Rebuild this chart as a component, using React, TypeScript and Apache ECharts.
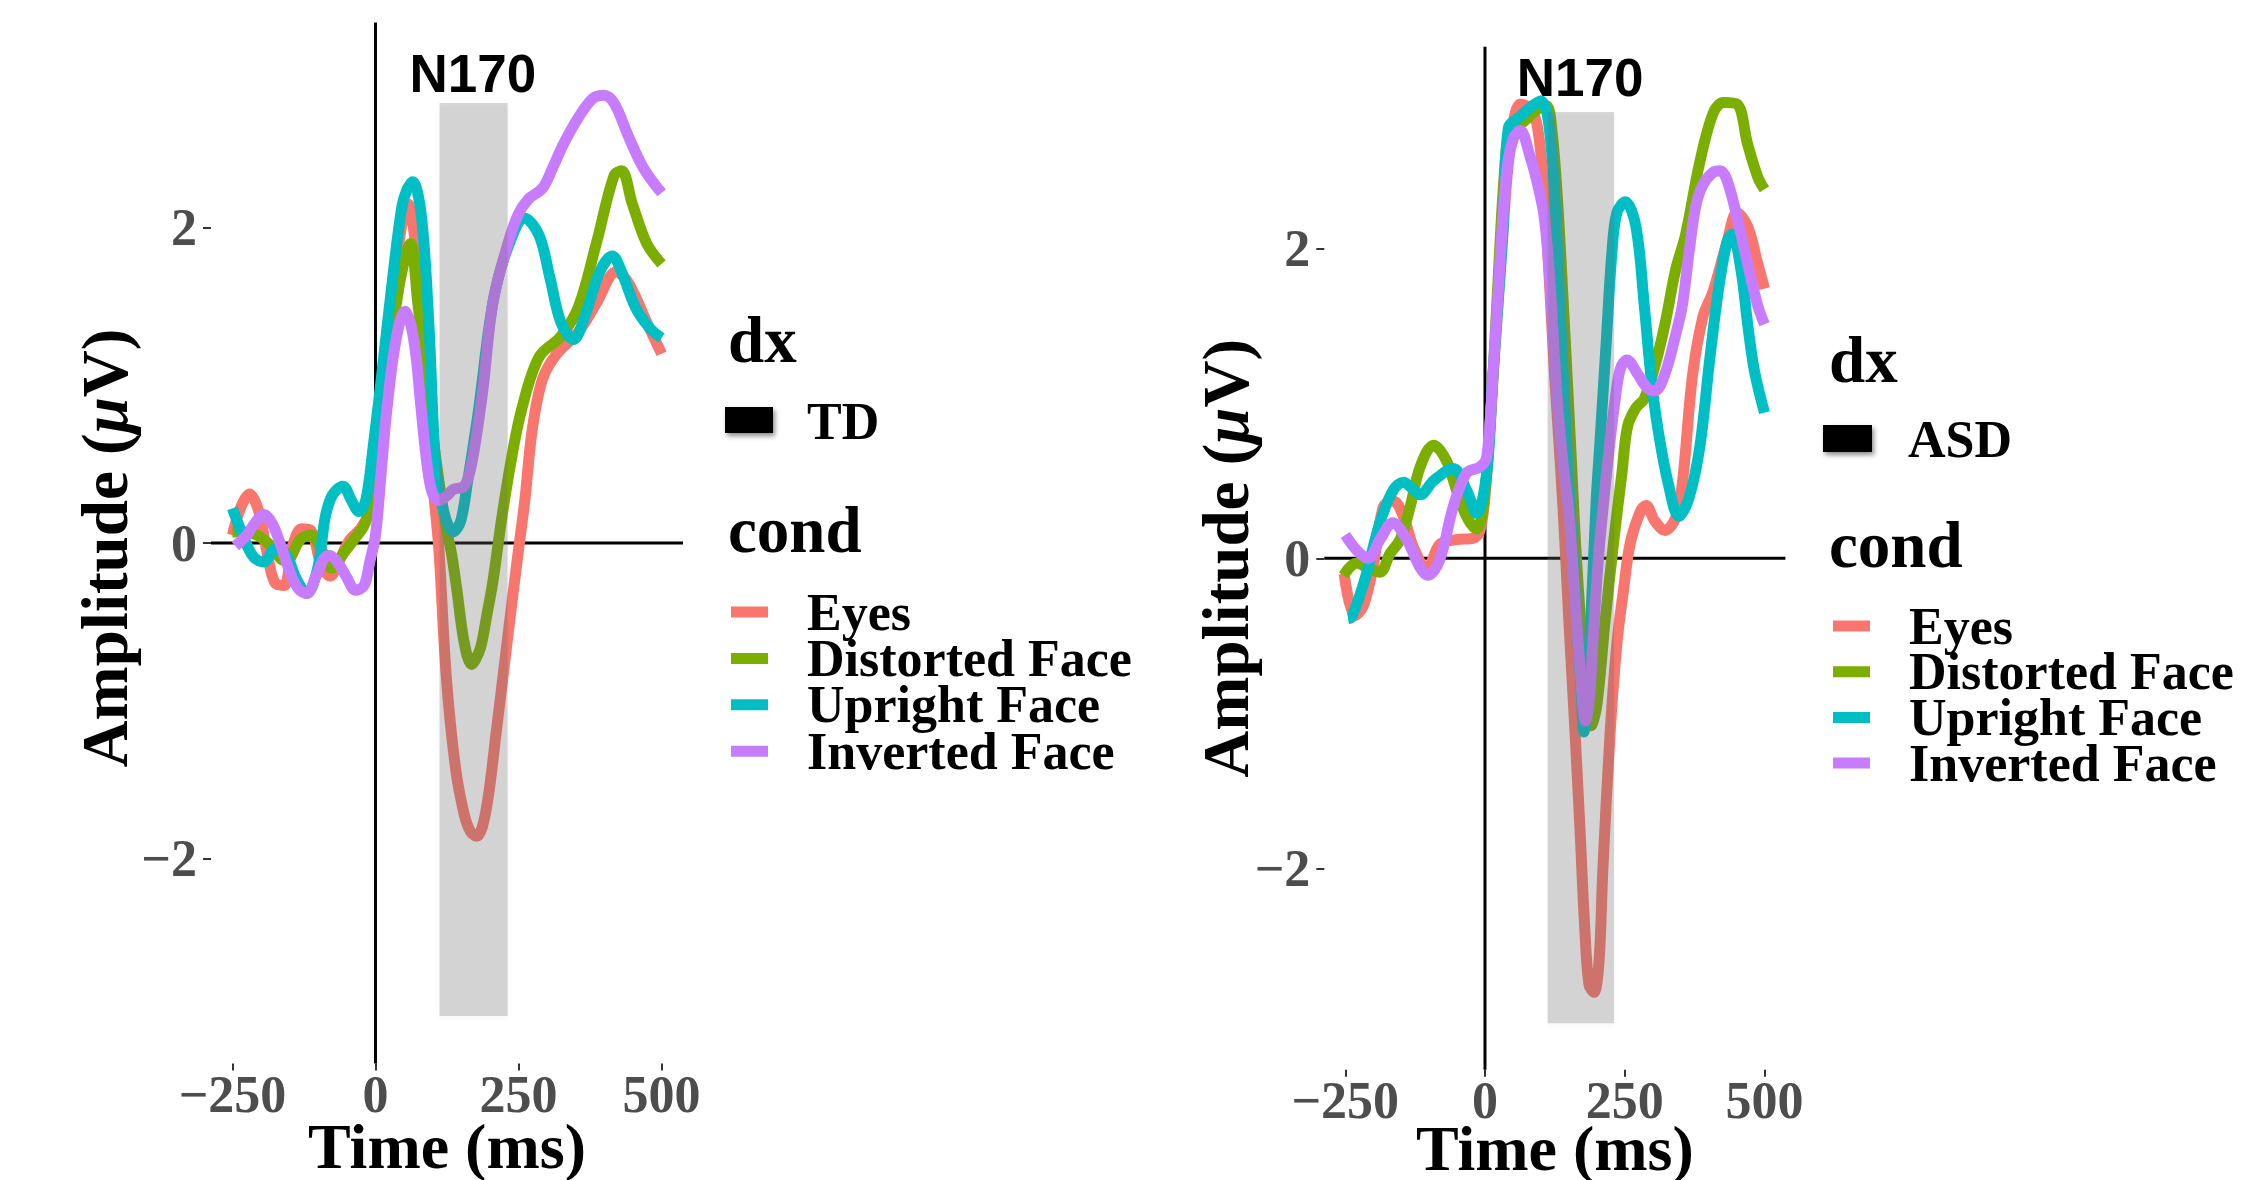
import React, { useEffect, useRef } from "react";
import * as echarts from "echarts";

// ---- axis / category definitions ----
const timeTicks = [-250, 0, 250, 500];
const ampTicks = [-2, 0, 2];
const timeRange = [-287.5, 537.5];
const ampRange = [-3.3, 3.3];
const condNames = ["Eyes", "Distorted Face", "Upright Face", "Inverted Face"];
const condColors = ["#F8766D", "#7CAE00", "#00BFC4", "#C77CFF"];
const panelNames = ["TD", "ASD"];

// N170 window [start ms, end ms, ymin, ymax] and label position [ms, µV]
const n170RectTD = [112, 231, -3, 2.79];
const n170RectASD = [112, 231, -3, 2.88];
const n170LabelTD = [170, 2.98];
const n170LabelASD = [170, 3.1];

// ---- TD panel: [time ms, amplitude µV] ----
const tdEyes = [
  [-250, 0.05], [-235, 0.23], [-220, 0.31], [-204, 0.2], [-188, -0.09], [-176, -0.25], [-160, -0.27],
  [-145, -0.02], [-129, 0.09], [-113, 0.08], [-95, -0.14], [-79, -0.21], [-63, -0.11], [-45, 0.02],
  [-26, 0.09], [-13, 0.18], [0, 0.4], [15, 0.95], [30, 1.55], [45, 2.0], [57, 2.15], [68, 1.95],
  [80, 1.45], [90, 0.9], [97, 0.5], [103, 0.27], [111, -0.05], [124, -0.86], [140, -1.43], [155, -1.72],
  [166, -1.83], [177, -1.86], [193, -1.7], [211, -1.2], [230, -0.63], [249, -0.07], [261, 0.27],
  [274, 0.72], [292, 1.04], [317, 1.2], [355, 1.34], [386, 1.52], [421, 1.72], [442, 1.65],
  [474, 1.4], [500, 1.2],
];
const tdDistorted = [
  [-250, 0.07], [-230, 0.07], [-207, 0.05], [-182, -0.02], [-160, -0.11], [-150, -0.1], [-132, 0.02],
  [-113, 0.05], [-95, -0.04], [-76, -0.16], [-57, -0.07], [-38, 0.02], [-20, 0.11], [-10, 0.23],
  [0, 0.45], [15, 0.9], [30, 1.35], [45, 1.7], [61, 1.9], [74, 1.52], [86, 1.15], [99, 0.72],
  [111, 0.39], [124, 0.09], [133, -0.07], [142, -0.29], [155, -0.63], [168, -0.77], [180, -0.7],
  [186, -0.63], [195, -0.45], [205, -0.25], [220, 0.14], [236, 0.5], [255, 0.84], [286, 1.18],
  [324, 1.31], [355, 1.5], [386, 1.9], [417, 2.33], [430, 2.36], [449, 2.15], [474, 1.9], [500, 1.77],
];
const tdUpright = [
  [-250, 0.22], [-232, 0.05], [-213, -0.09], [-195, -0.12], [-176, -0.04], [-157, -0.07], [-138, -0.23],
  [-120, -0.32], [-101, -0.16], [-88, 0.16], [-76, 0.3], [-57, 0.36], [-42, 0.27], [-29, 0.2],
  [-17, 0.27], [-4, 0.61], [11, 1.07], [30, 1.68], [46, 2.13], [55, 2.24], [65, 2.29], [80, 2.08],
  [93, 1.41], [105, 0.5], [117, 0.23], [136, 0.07], [149, 0.14], [161, 0.39], [180, 0.84], [205, 1.52],
  [230, 1.86], [261, 2.06], [286, 1.95], [305, 1.68], [324, 1.4], [346, 1.29], [367, 1.45],
  [392, 1.72], [414, 1.82], [430, 1.72], [455, 1.49], [480, 1.36], [500, 1.3],
];
const tdInverted = [
  [-245, -0.02], [-225, 0.05], [-210, 0.13], [-195, 0.18], [-180, 0.12], [-165, -0.02], [-150, -0.18],
  [-135, -0.29], [-120, -0.32], [-105, -0.22], [-90, -0.1], [-80, -0.08], [-65, -0.13], [-50, -0.22],
  [-35, -0.3], [-20, -0.27], [-10, -0.12], [0, 0.05], [10, 0.45], [20, 0.85], [36, 1.29], [52, 1.47],
  [62, 1.38], [71, 1.18], [80, 0.84], [90, 0.5], [99, 0.32], [111, 0.27], [125, 0.3], [136, 0.34],
  [155, 0.36], [168, 0.5], [187, 0.95], [205, 1.52], [230, 1.88], [249, 2.08], [267, 2.18],
  [292, 2.25], [311, 2.39], [330, 2.54], [355, 2.7], [380, 2.82], [399, 2.84], [417, 2.79],
  [442, 2.58], [468, 2.38], [500, 2.22],
];

// ---- ASD panel: [time ms, amplitude µV] ----
const asdEyes = [
  [-252, -0.1], [-233, -0.37], [-218, -0.31], [-200, -0.05], [-182, 0.33], [-164, 0.37], [-146, 0.27],
  [-128, 0.07], [-104, -0.07], [-81, 0.09], [-51, 0.12], [-21, 0.13], [-9, 0.18], [0, 0.4], [15, 1.2],
  [30, 2.0], [45, 2.65], [63, 2.93], [82, 2.9], [94, 2.78], [105, 2.4], [115, 1.8], [125, 1.15],
  [135, 0.6], [143, 0.1], [150, -0.4], [160, -1.05], [170, -1.75], [178, -2.35], [186, -2.75],
  [195, -2.8], [204, -2.6], [211, -2.0], [224, -1.12], [236, -0.55], [248, -0.2], [260, 0.1],
  [279, 0.31], [288, 0.34], [304, 0.24], [322, 0.18], [341, 0.26], [353, 0.48], [371, 1.17],
  [390, 1.56], [408, 1.72], [433, 2.04], [451, 2.23], [470, 2.14], [488, 1.9], [500, 1.74],
];
const asdDistorted = [
  [-253, -0.11], [-230, -0.03], [-210, -0.06], [-188, -0.09], [-170, 0.03], [-152, 0.12], [-134, 0.33],
  [-116, 0.59], [-92, 0.73], [-69, 0.63], [-51, 0.44], [-33, 0.27], [-15, 0.19], [-3, 0.33], [10, 0.9],
  [22, 1.7], [35, 2.5], [45, 2.75], [70, 2.82], [95, 2.9], [110, 2.92], [120, 2.75], [130, 2.3],
  [140, 1.65], [147, 1.17], [155, 0.6], [162, 0.1], [172, -0.45], [182, -0.85], [190, -1.08],
  [200, -0.95], [215, -0.4], [230, 0.1], [245, 0.55], [255, 0.85], [270, 0.97], [285, 1.03],
  [304, 1.24], [322, 1.51], [341, 1.86], [359, 2.09], [384, 2.55], [408, 2.87], [427, 2.94],
  [451, 2.93], [470, 2.67], [488, 2.46], [500, 2.38],
];
const asdUpright = [
  [-245, -0.39], [-239, -0.38], [-225, -0.25], [-212, -0.1], [-188, 0.23], [-164, 0.44], [-146, 0.49],
  [-130, 0.45], [-116, 0.41], [-92, 0.5], [-57, 0.58], [-33, 0.44], [-15, 0.29], [3, 0.55], [14, 1.17],
  [32, 2.09], [42, 2.78], [63, 2.85], [85, 2.92], [100, 2.95], [113, 2.83], [125, 2.32], [137, 1.4],
  [150, 0.48], [158, 0.0], [165, -0.45], [171, -0.78], [177, -1.12], [188, -0.5], [199, 0.38],
  [205, 0.71], [217, 1.4], [227, 1.97], [236, 2.23], [251, 2.3], [270, 2.14], [285, 1.63],
  [297, 1.17], [310, 0.82], [328, 0.48], [347, 0.27], [365, 0.39], [384, 0.71], [402, 1.28],
  [418, 1.74], [433, 2.04], [442, 2.09], [458, 1.86], [470, 1.51], [482, 1.21], [500, 0.94],
];
const asdInverted = [
  [-250, 0.15], [-229, 0.05], [-209, 0.0], [-188, 0.12], [-165, 0.23], [-140, 0.12], [-116, -0.06],
  [-102, -0.11], [-81, -0.01], [-57, 0.33], [-33, 0.55], [-9, 0.59], [3, 0.65], [14, 1.17], [26, 1.86],
  [39, 2.5], [51, 2.71], [63, 2.76], [80, 2.6], [95, 2.4], [106, 2.2], [116, 1.8], [125, 1.25],
  [131, 0.94], [140, 0.6], [150, 0.3], [160, -0.2], [170, -0.7], [180, -1.05], [187, -0.9],
  [193, -0.55], [203, 0.0], [212, 0.35], [222, 0.7], [232, 1.0], [242, 1.22], [254, 1.28],
  [273, 1.19], [290, 1.1], [304, 1.08], [322, 1.19], [341, 1.44], [353, 1.63], [365, 1.97],
  [377, 2.27], [390, 2.41], [408, 2.49], [421, 2.5], [433, 2.44], [451, 2.2], [470, 1.9],
  [488, 1.63], [500, 1.51],
];

const tdSeries = [tdEyes, tdDistorted, tdUpright, tdInverted];
const asdSeries = [asdEyes, asdDistorted, asdUpright, asdInverted];

// ---- layout (pixels) ----
const SERIF = '"Liberation Serif", "Times New Roman", Times, serif';
const SANS = '"Liberation Sans", Arial, sans-serif';
const grids = [
  { left: 211, top: 22.6, width: 472, height: 1040.8 },
  { left: 1324.3, top: 46.8, width: 461.1, height: 1023 },
];

const fmt = (v: number) => (v < 0 ? "\u2212" + Math.abs(v) : String(v));

function buildOption() {
  const xAxis = grids.map((_, i) => ({
    type: "value",
    gridIndex: i,
    min: timeRange[0],
    max: timeRange[1],
    axisLine: { show: false, onZero: false },
    splitLine: { show: false },
    axisTick: {
      show: true,
      customValues: timeTicks,
      length: 7,
      lineStyle: { color: "#333333", width: 2 },
    },
    axisLabel: {
      customValues: timeTicks,
      formatter: fmt,
      margin: 11,
      lineHeight: 40,
      color: "#4D4D4D",
      fontFamily: SERIF,
      fontWeight: "bold",
      fontSize: 52,
    },
  }));
  const yAxis = grids.map((_, i) => ({
    type: "value",
    gridIndex: i,
    min: ampRange[0],
    max: ampRange[1],
    axisLine: { show: false, onZero: false },
    splitLine: { show: false },
    axisTick: {
      show: true,
      customValues: ampTicks,
      length: 8,
      lineStyle: { color: "#333333", width: 2 },
    },
    axisLabel: {
      customValues: ampTicks,
      formatter: fmt,
      margin: 14,
      lineHeight: 40,
      color: "#4D4D4D",
      fontFamily: SERIF,
      fontWeight: "bold",
      fontSize: 52,
    },
  }));

  const series: any[] = [];
  [tdSeries, asdSeries].forEach((panel, pi) => {
    // zero reference lines
    series.push({
      type: "custom",
      xAxisIndex: pi,
      yAxisIndex: pi,
      z: 1,
      silent: true,
      data: [[0, 0]],
      renderItem: (params: any, api: any) => {
        const cs = params.coordSys;
        const p = api.coord([api.value(0), api.value(1)]);
        return {
          type: "group",
          children: [
            {
              type: "line",
              shape: { x1: cs.x, y1: p[1], x2: cs.x + cs.width, y2: p[1] },
              style: { stroke: "#000", lineWidth: 3 },
            },
            {
              type: "line",
              shape: { x1: p[0], y1: cs.y, x2: p[0], y2: cs.y + cs.height },
              style: { stroke: "#000", lineWidth: 3 },
            },
          ],
        };
      },
    });
    panel.forEach((data, ci) => {
      series.push({
        type: "line",
        name: condNames[ci],
        xAxisIndex: pi,
        yAxisIndex: pi,
        data,
        smooth: 0.35,
        showSymbol: false,
        symbol: "none",
        z: 2,
        color: condColors[ci],
        itemStyle: { color: condColors[ci] },
        lineStyle: { color: condColors[ci], width: 11, cap: "butt", join: "round" },
      });
    });
    // N170 window (translucent overlay)
    series.push({
      type: "custom",
      xAxisIndex: pi,
      yAxisIndex: pi,
      z: 3,
      silent: true,
      data: [pi === 0 ? n170RectTD : n170RectASD],
      renderItem: (params: any, api: any) => {
        const p0 = api.coord([api.value(0), api.value(3)]);
        const p1 = api.coord([api.value(1), api.value(2)]);
        return {
          type: "rect",
          shape: { x: p0[0], y: p0[1], width: p1[0] - p0[0], height: p1[1] - p0[1] },
          style: {
            fill: "rgba(110,110,110,0.28)",
            shadowBlur: 5,
            shadowOffsetY: 3,
            shadowColor: "rgba(0,0,0,0.10)",
          },
        };
      },
    });
    // N170 label
    series.push({
      type: "custom",
      xAxisIndex: pi,
      yAxisIndex: pi,
      z: 4,
      silent: true,
      clip: false,
      data: [pi === 0 ? n170LabelTD : n170LabelASD],
      renderItem: (params: any, api: any) => {
        const p = api.coord([api.value(0), api.value(1)]);
        return {
          type: "text",
          x: p[0],
          y: p[1],
          style: {
            text: "N170",
            fill: "#000",
            font: "bold 53px " + SANS,
            align: "center",
            verticalAlign: "middle",
          },
        };
      },
    });
  });

  const legendBase = {
    orient: "vertical",
    icon: "rect",
    itemWidth: 37,
    itemHeight: 11,
    padding: 0,
    selectedMode: false,
    data: condNames,
  };
  const legendText = {
    fontFamily: SERIF,
    fontWeight: "bold",
    fontSize: 52,
    color: "#000",
    padding: [0, 0, 0, 34],
  };
  const legend = [
    { ...legendBase, left: 731, top: 586, itemGap: -5.6, textStyle: legendText },
    { ...legendBase, left: 1833, top: 600, itemGap: -6.3, textStyle: legendText },
  ];

  const title = (x: number, y: number, text: string, size: number, align = "left", lh?: number) => ({
    type: "text",
    x,
    y,
    silent: true,
    style: {
      text,
      fill: "#000",
      font: `bold ${size}px ${SERIF}`,
      align,
      verticalAlign: "middle",
      ...(lh ? { lineHeight: lh } : {}),
    },
  });
  const yTitle = (x: number, y: number) => ({
    type: "text",
    x,
    y,
    rotation: Math.PI / 2,
    silent: true,
    style: {
      text: "{a|Amplitude (}{b|\u03BC}{a|V)}",
      align: "center",
      verticalAlign: "middle",
      fill: "#000",
      font: `bold 65px ${SERIF}`,
      rich: {
        a: { fontFamily: SERIF, fontWeight: "bold", fontSize: 65, fill: "#000" },
        b: { fontFamily: SERIF, fontWeight: "bold", fontStyle: "italic", fontSize: 65, fill: "#000" },
      },
    },
  });
  const key = (x: number, y: number, w: number, h: number) => ({
    type: "rect",
    silent: true,
    shape: { x, y, width: w, height: h },
    style: {
      fill: "#000",
      shadowBlur: 5,
      shadowOffsetX: 2,
      shadowOffsetY: 3,
      shadowColor: "rgba(0,0,0,0.45)",
    },
  });

  const gc = grids.map((g) => ({ cx: g.left + g.width / 2, cy: g.top + g.height / 2 }));

  const graphic = {
    elements: [
      yTitle(105.4, gc[0].cy + 5),
      yTitle(1225.6, gc[1].cy),
      title(gc[0].cx, 1146, "Time (ms)", 64, "center", 50),
      title(gc[1].cx, 1148, "Time (ms)", 64, "center", 50),
      title(728, 340, "dx", 65),
      key(725, 407, 48, 26),
      title(807, 421.5, panelNames[0], 52),
      title(728, 530, "cond", 65),
      title(1829, 360, "dx", 65),
      key(1823, 425, 49, 27),
      title(1908, 439.6, panelNames[1], 52),
      title(1829, 545, "cond", 65),
    ],
  };

  return {
    animation: false,
    backgroundColor: "#ffffff",
    grid: grids.map((g) => ({ ...g, containLabel: false })),
    xAxis,
    yAxis,
    legend,
    series,
    graphic,
  };
}

export default function App() {
  const ref = useRef<HTMLDivElement | null>(null);
  useEffect(() => {
    if (!ref.current) return;
    const chart = echarts.init(ref.current, undefined, { renderer: "svg" });
    chart.setOption(buildOption() as any);
    return () => chart.dispose();
  }, []);
  return (
    <div
      ref={ref}
      style={{ position: "fixed", left: 0, top: 0, width: "2246px", height: "1180px", background: "#fff" }}
    />
  );
}
